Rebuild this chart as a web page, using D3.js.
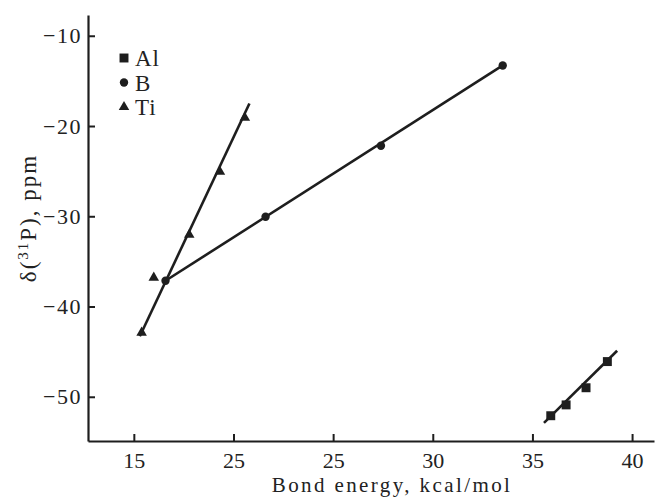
<!DOCTYPE html>
<html>
<head>
<meta charset="utf-8">
<script src="https://cdn.jsdelivr.net/npm/d3@7"></script>
<style>
  body { margin: 0; background: #fff; }
  text { font-family: "Liberation Serif", "DejaVu Serif", serif; fill: #222; }
</style>
</head>
<body>
<script>
// series
const alPoints = [[35.92, -52.1], [36.69, -50.9], [37.69, -49.0], [38.76, -46.1]];
const bPoints  = [[16.59, -37.15], [21.61, -30.06], [27.40, -22.19], [33.51, -13.29]];
const tiPoints = [[15.39, -42.9], [16.0, -36.8], [17.78, -32.05], [19.32, -25.07], [20.57, -19.09]];

// fitted lines (end points)
const alFit = [[35.58, -52.9], [39.25, -44.9]];
const bFit  = [[16.55, -37.2], [33.51, -13.29]];
const tiFit = [[15.3, -43.3], [20.8, -17.5]];

const xTicks = [15, 20, 25, 30, 35, 40];
const xTickLabels = ["15", "25", "25", "30", "35", "40"];
const yTicks = [-10, -20, -30, -40, -50];

const legendNames = ["Al", "B", "Ti"];

const W = 655, H = 499;
const svg = d3.select("body").append("svg")
    .attr("width", W)
    .attr("height", H);

const x = d3.scaleLinear().domain([12.7, 41.1]).range([88, 654]);
const y = d3.scaleLinear().domain([-54.9, -7.7]).range([441, 15]);

const ink = "#1e1e1e";

// axes
const gx = svg.append("g")
    .attr("transform", "translate(0,441)")
    .call(d3.axisBottom(x)
        .tickValues(xTicks)
        .tickFormat((d, i) => xTickLabels[i])
        .tickSizeInner(-7)
        .tickSizeOuter(0)
        .tickPadding(11));

const gy = svg.append("g")
    .attr("transform", "translate(88,0)")
    .call(d3.axisLeft(y)
        .tickValues(yTicks)
        .tickSizeInner(-7)
        .tickSizeOuter(0)
        .tickPadding(6));

[gx, gy].forEach(g => {
    g.select(".domain").attr("stroke", ink).attr("stroke-width", 2.2);
    g.selectAll(".tick line").attr("stroke", ink).attr("stroke-width", 2);
    g.selectAll(".tick text")
        .attr("fill", "#222")
        .style("font-family", '"Liberation Serif", serif')
        .style("font-size", "22px");
});
gy.selectAll(".tick text").style("letter-spacing", "1.5px");

// axis titles
svg.append("text")
    .attr("x", 392)
    .attr("y", 492)
    .attr("text-anchor", "middle")
    .style("font-size", "21px")
    .style("letter-spacing", "2.4px")
    .text("Bond energy, kcal/mol");

const yt = svg.append("text")
    .attr("transform", "translate(36,218) rotate(-90)")
    .attr("text-anchor", "middle")
    .style("font-size", "23px")
    .style("letter-spacing", "2px");
yt.append("tspan").text("δ(");
yt.append("tspan").attr("baseline-shift", "super").style("font-size", "15px").text("31");
yt.append("tspan").text("P), ppm");

// lines
const line = d3.line().x(d => x(d[0])).y(d => y(d[1]));
[alFit, bFit, tiFit].forEach(f => {
    svg.append("path")
        .datum(f)
        .attr("fill", "none")
        .attr("stroke", ink)
        .attr("stroke-width", 2.6)
        .attr("d", line);
});

// markers
const shapes = [
    { pts: alPoints, type: d3.symbolSquare, size: 80 },
    { pts: bPoints, type: d3.symbolCircle, size: 55 },
    { pts: tiPoints, type: d3.symbolTriangle, size: 48 }
];
shapes.forEach(s => {
    svg.append("g").selectAll("path")
        .data(s.pts)
        .join("path")
        .attr("transform", d => "translate(" + x(d[0]) + "," + y(d[1]) + ")")
        .attr("d", d3.symbol().type(s.type).size(s.size))
        .attr("fill", ink);
});

// legend
const legend = svg.append("g").attr("transform", "translate(124,58)");
legendNames.forEach((name, i) => {
    const row = legend.append("g").attr("transform", "translate(0," + (i * 24.5) + ")");
    row.append("path")
        .attr("d", d3.symbol().type(shapes[i].type).size(shapes[i].size))
        .attr("fill", ink);
    row.append("text")
        .attr("x", 11)
        .attr("y", 8)
        .style("font-size", "23px")
        .style("letter-spacing", "1px")
        .text(name);
});
</script>
</body>
</html>
